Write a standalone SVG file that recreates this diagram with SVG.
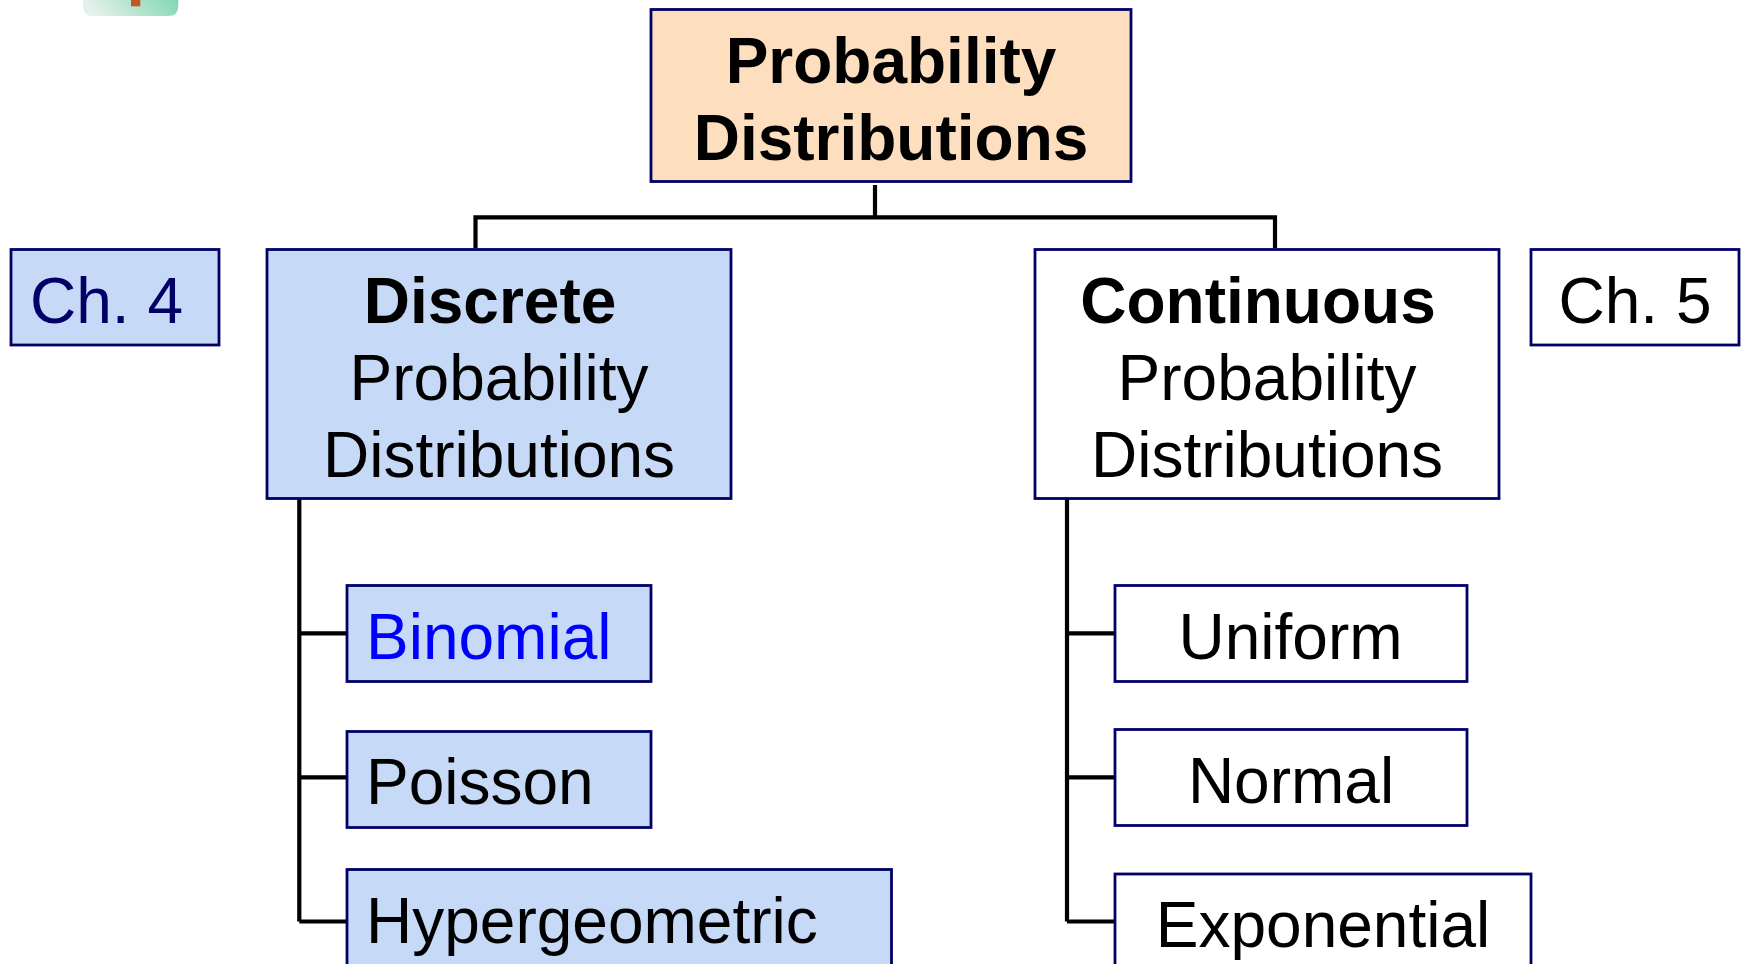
<svg xmlns="http://www.w3.org/2000/svg" width="1746" height="964" viewBox="0 0 1746 964">
<style>
text{font-family:"Liberation Sans",Arial,sans-serif;font-size:64px;fill:#000}
.b{font-weight:bold}
.m{text-anchor:middle}
.box{stroke:#000066;stroke-width:2.800}
.blue{fill:#C6D9F7}
.white{fill:#fff}
.peach{fill:#FDDFBF}
.conn{stroke:#000;stroke-width:4.200;fill:none}
</style>
<defs><linearGradient id="g" x1="0" y1="0.2" x2="1" y2="0"><stop offset="0" stop-color="#E4F0EA"/><stop offset="1" stop-color="#7ED6AE"/></linearGradient></defs>
<rect width="1746" height="964" fill="#fff"/>
<g id="icon"><path d="M83 -5H178.300V6Q178.300 16 168.300 16H93Q83 16 83 6Z" fill="url(#g)"/><rect x="131" y="0" width="9.300" height="6.300" fill="#BE5A22"/></g>
<g id="connectors">
<path class="conn" d="M875 185V217.300M475.500 248V217.300H1275V248"/>
<path class="conn" d="M299.300 498V921.500M299.300 633.300H346M299.300 777.300H346M299.300 921.500H346"/>
<path class="conn" d="M1067 498V921.500M1067 633.300H1115M1067 777.300H1115M1067 921.500H1115"/>
</g>
<g id="root"><rect class="box peach" x="651" y="9.500" width="480" height="172"/><text class="b m" x="891" y="82.500">Probability</text><text class="b m" x="891" y="159.500">Distributions</text></g>
<g id="ch4"><rect class="box blue" x="11" y="249.500" width="208" height="95.500"/><text x="30" y="322.500" style="fill:#000066">Ch. 4</text></g>
<g id="discrete"><rect class="box blue" x="267" y="249.500" width="464" height="249"/><text class="b m" x="490" y="322.500">Discrete</text><text class="m" x="499" y="399.500">Probability</text><text class="m" x="499" y="476.500">Distributions</text></g>
<g id="continuous"><rect class="box white" x="1035" y="249.500" width="464" height="249"/><text class="b m" x="1258" y="322.500">Continuous</text><text class="m" x="1267" y="399.500">Probability</text><text class="m" x="1267" y="476.500">Distributions</text></g>
<g id="ch5"><rect class="box white" x="1531" y="249.500" width="208" height="95.500"/><text class="m" x="1635" y="322.500">Ch. 5</text></g>
<g id="binomial"><rect class="box blue" x="347" y="585.500" width="304" height="96"/><text x="366" y="658.500" style="fill:#0000FF">Binomial</text></g>
<g id="poisson"><rect class="box blue" x="347" y="731.500" width="304" height="96"/><text x="366" y="804">Poisson</text></g>
<g id="hypergeometric"><rect class="box blue" x="347" y="869.500" width="544.500" height="110"/><text x="366" y="942.500">Hypergeometric</text></g>
<g id="uniform"><rect class="box white" x="1115" y="585.500" width="352" height="96"/><text class="m" x="1290.500" y="658.500">Uniform</text></g>
<g id="normal"><rect class="box white" x="1115" y="729.500" width="352" height="96"/><text class="m" x="1291" y="802.500">Normal</text></g>
<g id="exponential"><rect class="box white" x="1115" y="874" width="416" height="110"/><text class="m" x="1323" y="946.500">Exponential</text></g>
</svg>
